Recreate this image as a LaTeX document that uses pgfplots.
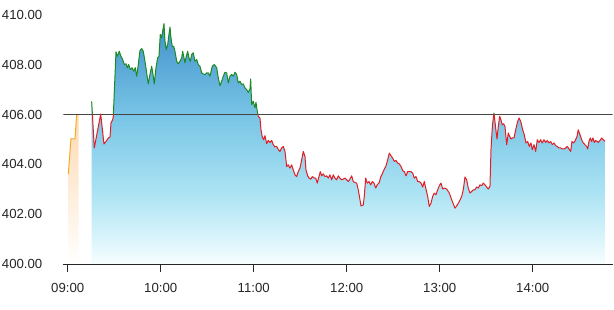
\documentclass[border=0pt]{standalone}
\usepackage{fontspec}
\setmainfont{Liberation Sans}
\usepackage{pgfplots}
\usepackage{pgfplotstable}
\pgfplotsset{compat=1.18}
\definecolor{upgreen}{RGB}{28,138,36}
\definecolor{downred}{RGB}{226,30,36}
\definecolor{preorange}{RGB}{245,170,40}
\definecolor{orTop}{RGB}{253,218,178}
\definecolor{baseln}{RGB}{70,70,70}
\pgfdeclareverticalshading{bluefill}{100bp}{%
  rgb(0bp)=(0.97,0.995,1);
  rgb(25bp)=(0.97,0.995,1);
  rgb(30bp)=(0.86,0.96,0.985);
  rgb(40bp)=(0.67,0.89,0.955);
  rgb(56bp)=(0.47,0.77,0.90);
  rgb(75bp)=(0.26,0.57,0.80);
  rgb(100bp)=(0.26,0.57,0.80)}

\pgfplotstableread{
t v
0.4 400
0.4 403.61
2.1 405.02
4.7 405.02
5.8 406.00
7.1 406.00
7.1 400
}\predata

\pgfplotstableread{
t v
15.48 400
15.48 406.53
17.16 404.66
21.29 406.02
23.42 404.82
24.71 404.92
26.19 405.06
27.29 405.10
27.94 405.66
29.03 405.79
29.42 405.93
31.16 408.52
32.00 408.34
33.29 408.54
34.39 408.34
35.48 408.21
36.52 408.01
37.61 408.04
38.45 407.88
39.35 408.01
40.39 407.81
41.48 407.88
42.58 407.74
43.61 407.88
44.52 407.54
45.55 408.01
46.65 408.57
47.74 408.65
48.77 408.54
49.87 408.14
50.97 407.67
52.00 407.23
53.10 407.61
54.19 407.94
55.23 407.54
55.87 407.23
56.97 407.88
58.06 408.28
58.90 408.34
59.74 409.22
60.65 409.08
61.48 409.42
62.13 409.65
62.77 408.95
63.61 408.61
64.52 408.81
65.35 409.22
66.00 409.51
66.65 409.08
67.48 408.74
68.39 408.74
69.23 408.54
70.32 408.14
71.35 408.04
72.45 408.14
73.55 408.28
74.19 408.54
75.03 408.28
75.68 408.08
76.52 408.34
77.42 408.54
78.26 408.28
79.10 408.14
80.00 408.41
81.03 408.48
82.13 408.14
83.23 408.21
84.26 408.01
85.35 407.94
86.45 407.67
87.48 407.63
88.58 407.61
89.68 407.67
90.71 407.67
91.81 407.54
93.29 407.94
94.58 408.01
96.13 407.88
97.16 407.47
98.26 407.16
99.35 407.34
100.39 407.54
101.48 407.70
102.58 407.67
103.61 407.27
104.71 407.54
105.81 407.61
106.84 407.54
107.94 407.70
109.03 407.61
110.06 407.27
111.16 407.34
112.26 407.20
113.29 407.23
114.39 407.07
115.48 407.00
116.52 406.89
117.61 407.03
118.06 407.43
118.71 406.40
119.74 406.53
120.84 406.27
121.48 406.49
122.32 406.13
122.97 405.93
124.06 405.86
124.71 405.39
125.55 405.10
126.45 404.99
127.29 405.15
128.39 404.83
129.42 404.96
130.52 404.88
131.61 404.96
132.65 404.79
133.74 404.70
134.84 404.72
135.87 404.59
136.97 404.52
138.06 404.66
139.10 404.72
140.19 404.52
141.29 403.92
142.32 403.98
143.42 403.85
144.52 403.98
145.55 403.78
146.65 403.58
147.74 403.51
148.77 403.71
149.87 403.85
150.97 404.18
152.00 404.52
153.10 404.32
153.74 403.78
154.84 403.54
155.68 403.45
156.97 403.41
157.81 403.51
159.10 403.45
160.00 403.45
161.03 403.25
162.13 403.51
162.97 403.71
163.87 403.54
164.90 403.62
166.00 403.51
167.10 403.54
168.13 403.45
169.23 403.58
170.32 403.38
171.35 403.58
172.45 403.45
173.55 403.38
174.58 403.54
175.68 403.45
176.77 403.38
177.81 403.41
178.90 403.45
180.00 403.38
181.03 403.31
182.13 403.41
183.23 403.54
184.26 403.31
185.35 403.27
186.45 403.25
187.48 402.98
188.58 402.58
189.23 402.33
190.71 402.37
191.35 402.71
192.26 403.45
193.29 403.25
194.39 403.31
195.48 403.18
196.52 403.31
197.61 403.25
198.71 403.05
199.74 403.18
201.03 403.27
201.94 403.49
202.97 403.62
204.06 403.78
205.35 403.94
206.45 404.18
207.48 404.45
208.58 404.35
209.68 404.25
210.71 404.12
211.81 404.16
212.90 404.05
213.94 404.02
215.03 403.92
216.13 403.75
217.16 403.71
218.26 403.54
219.35 403.71
220.39 403.71
221.48 403.71
222.58 403.65
223.61 403.45
224.71 403.51
225.81 403.31
226.84 403.31
227.94 403.25
229.03 403.09
230.06 403.31
231.16 403.01
232.26 402.71
233.29 402.31
234.39 402.44
235.48 402.71
236.52 402.85
237.61 402.78
238.71 402.98
239.74 403.14
240.84 403.25
241.94 403.01
242.97 403.05
244.52 403.01
246.19 402.85
247.74 402.58
249.87 402.24
251.35 402.37
252.65 402.51
254.19 402.71
255.23 402.98
256.32 403.49
257.42 403.38
258.45 403.05
259.55 402.85
260.65 402.91
261.68 402.98
262.77 402.98
263.87 403.09
264.90 403.05
266.00 403.18
267.10 403.14
268.13 403.25
269.23 403.18
270.32 403.09
271.35 403.01
272.45 403.11
273.10 404.59
274.06 405.59
275.03 406.06
276.13 405.46
276.97 405.02
277.81 405.52
278.71 405.93
279.55 405.79
280.39 405.59
281.29 405.63
282.13 405.52
283.23 404.79
284.26 405.26
285.16 405.12
286.00 405.02
286.84 405.06
287.94 405.06
289.03 405.39
290.32 405.73
291.35 405.86
292.45 405.69
293.55 405.39
294.58 405.19
295.68 404.86
296.77 404.92
297.81 404.72
298.90 404.86
299.74 404.59
300.84 404.79
301.94 404.52
302.97 404.99
304.06 404.88
305.16 404.99
306.19 404.86
307.29 404.99
308.39 404.88
309.42 404.96
310.52 404.86
311.61 404.92
312.65 404.79
313.74 404.86
314.84 404.75
315.87 404.72
316.97 404.66
318.06 404.66
319.10 404.62
320.19 404.62
321.29 404.66
322.32 404.72
323.42 404.62
324.52 404.52
325.35 404.92
326.45 404.86
327.48 404.96
328.58 405.12
329.42 405.39
330.52 405.19
331.61 404.99
332.65 404.86
333.74 404.79
334.84 404.72
335.48 404.62
336.32 404.92
337.16 405.06
338.06 404.92
338.90 405.06
339.74 404.88
340.65 404.96
341.48 404.92
342.32 404.88
343.42 404.96
344.52 405.06
345.55 404.99
346.65 404.92
346.65 400
}\maindata

\begin{document}
\begin{tikzpicture}
\begin{axis}[
  name=ax,
  scale only axis,
  width=549pt, height=264pt,
  xmin=-2.7, xmax=351.5,
  ymin=400, ymax=410.6,
  axis x line*=bottom,
  axis y line*=left,
  x axis line style={-, draw=black!85, line width=0.9pt},
  y axis line style={draw=none},
  ytick={400,402,404,406,408,410},
  xtick={0,60,120,180,240,300},
  xticklabels={09:00,10:00,11:00,12:00,13:00,14:00},
  ytick style={draw=none},
  xtick style={draw=black!85, line width=0.9pt},
  tick align=outside,
  major tick length=8pt,
  yticklabel style={anchor=east, inner sep=0pt, xshift=-13pt, font=\fontsize{13.2}{14}\selectfont, text=black!85},
  xticklabel style={anchor=north, inner sep=0pt, yshift=-11pt, font=\fontsize{13.2}{14}\selectfont, text=black!85},
  /pgf/number format/assume math mode=true,
  yticklabel={\pgfmathprintnumber[fixed,fixed zerofill,precision=2]{\tick}},
  tick label style={/pgf/number format/1000 sep={}},
]
% premarket area and line
\addplot[draw=none, top color=orTop, bottom color=white] table[x=t,y=v] {\predata};
\addplot[preorange, line width=1pt, restrict y to domain=400.5:411] table[x=t,y=v] {\predata};
% main area
\addplot[draw=none, shading=bluefill] table[x=t,y=v] {\maindata};
% baseline
\addplot[baseln, line width=1.4pt] coordinates {(-2.7,406) (351.5,406)};
% green part (above 406)
\begin{scope}
\clip (axis cs:-10,406) rectangle (axis cs:400,412);
\addplot[upgreen, line width=1pt, line join=round, restrict y to domain=400.5:411] table[x=t,y=v] {\maindata};
\end{scope}
% red part (below 406)
\begin{scope}
\clip (axis cs:-10,406) rectangle (axis cs:400,399);
\addplot[downred, line width=1pt, line join=round, restrict y to domain=400.5:411] table[x=t,y=v] {\maindata};
\end{scope}
\end{axis}
\pgfresetboundingbox
\path[use as bounding box] ([xshift=-63.5pt,yshift=-46pt]ax.south west) rectangle ([xshift=1.5pt]ax.north east);
\end{tikzpicture}
\end{document}
